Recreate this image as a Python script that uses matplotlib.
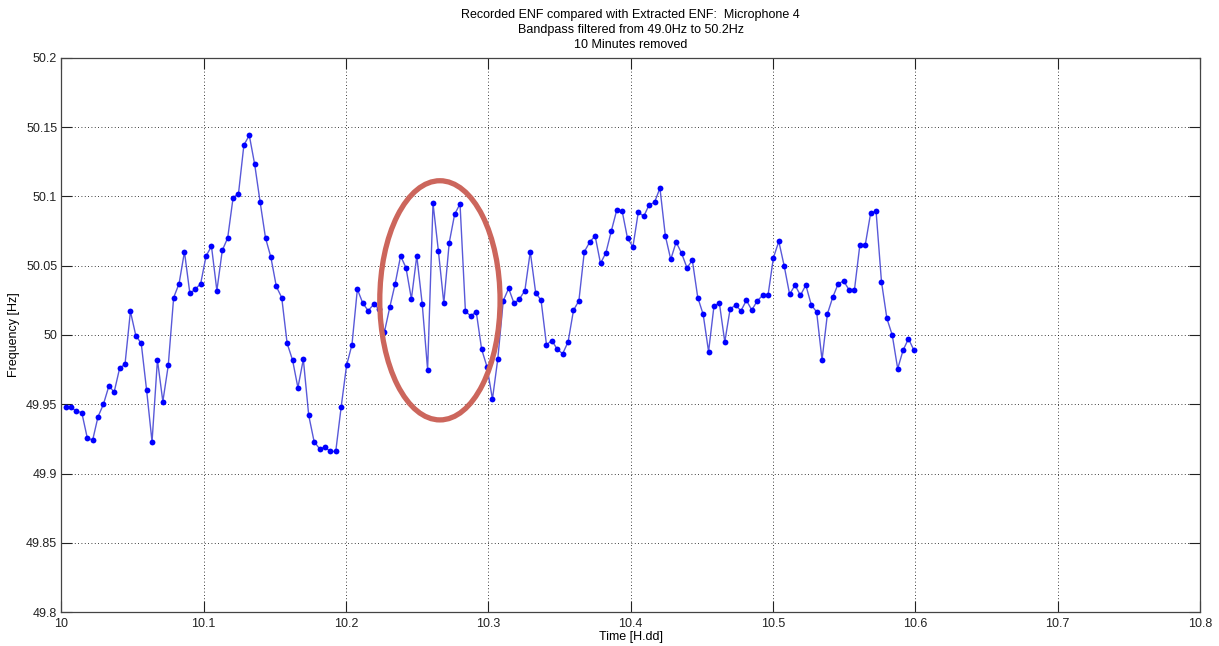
import numpy as np
import matplotlib
matplotlib.use('Agg')
import matplotlib.pyplot as plt
from matplotlib.patches import Ellipse

plt.rcParams['font.family'] = ['Liberation Sans', 'DejaVu Sans']

# extracted ENF, one value per sample (Hz)
freq = [49.948, 49.948, 49.945, 49.944, 49.926, 49.924, 49.941, 49.950, 49.963, 49.959,
        49.976, 49.979, 50.017, 49.9995, 49.994, 49.960, 49.923, 49.982, 49.952, 49.978,
        50.027, 50.037, 50.060, 50.030, 50.033, 50.037, 50.057, 50.064, 50.032, 50.061,
        50.070, 50.099, 50.102, 50.137, 50.144, 50.123, 50.096, 50.070, 50.056, 50.035,
        50.027, 49.994, 49.982, 49.962, 49.9825, 49.942, 49.923, 49.918, 49.919, 49.916,
        49.916, 49.948, 49.978, 49.993, 50.033, 50.023, 50.0175, 50.022, 50.019, 50.002,
        50.020, 50.037, 50.057, 50.0485, 50.026, 50.057, 50.0225, 49.975, 50.095, 50.0605,
        50.023, 50.0665, 50.087, 50.0946, 50.017, 50.0137, 50.0168, 49.9897, 49.977, 49.9537,
        49.983, 50.0247, 50.0336, 50.0228, 50.026, 50.032, 50.060, 50.0305, 50.025, 49.993,
        49.996, 49.9897, 49.9865, 49.995, 50.0178, 50.0247, 50.060, 50.067, 50.0715, 50.0516,
        50.0593, 50.075, 50.090, 50.0895, 50.0697, 50.0636, 50.0888, 50.0855, 50.0939, 50.0956,
        50.106, 50.0715, 50.0545, 50.067, 50.059, 50.0485, 50.0538, 50.027, 50.0149, 49.988,
        50.0209, 50.023, 49.995, 50.019, 50.0214, 50.0175, 50.025, 50.018, 50.0245, 50.0286,
        50.0286, 50.0557, 50.0675, 50.0497, 50.0293, 50.036, 50.0286, 50.036, 50.0218, 50.0166,
        49.982, 50.0153, 50.0274, 50.037, 50.0389, 50.0326, 50.0326, 50.065, 50.065, 50.088,
        50.0893, 50.0384, 50.012, 49.9998, 49.9757, 49.989, 49.9973, 49.989]

t_start = 10.003
t_end = 10.599
time = np.linspace(t_start, t_end, len(freq))

xticks = [10, 10.1, 10.2, 10.3, 10.4, 10.5, 10.6, 10.7, 10.8]
yticks = [49.8, 49.85, 49.9, 49.95, 50, 50.05, 50.1, 50.15, 50.2]
ytick_labels = ['49.8', '49.85', '49.9', '49.95', '50', '50.05', '50.1', '50.15', '50.2']

# suspicious region marked on the chart
mark_center = (10.266, 50.025)
mark_w, mark_h = 0.0845, 0.1725

fig = plt.figure(figsize=(12.19, 6.46), dpi=100)
ax = fig.add_axes([0.0503, 0.0522, 0.9341, 0.8585])

ax.plot(time, freq, '-', color=[0.35, 0.35, 0.85], linewidth=1.0, zorder=3)
ax.plot(time, freq, 'o', color=[0, 0, 1], markersize=4.2, markeredgewidth=0, zorder=4)

ax.add_patch(Ellipse(mark_center, mark_w, mark_h, fill=False,
                     edgecolor=[0.80, 0.40, 0.36], linewidth=3.8, zorder=5))

ax.set_xlim(10, 10.8)
ax.set_ylim(49.8, 50.2)
ax.set_xticks(xticks)
ax.set_xticklabels([str(v) for v in xticks])
ax.set_yticks(yticks)
ax.set_yticklabels(ytick_labels)
ax.grid(True, linestyle=(0, (1, 3)), color='black', linewidth=0.6)
ax.tick_params(direction='in', length=8, width=0.8, top=True, right=True,
               labelsize=9, colors='#222222', pad=2)
ax.tick_params(axis='x', pad=4)
ax.tick_params(axis='y', pad=3)
for s in ax.spines.values():
    s.set_color('#444444')
    s.set_linewidth(0.9)

ax.set_xlabel('Time [H.dd]', fontsize=9, labelpad=1)
ax.set_ylabel('Frequency [Hz]', fontsize=9, labelpad=4)
ax.set_title('Recorded ENF compared with Extracted ENF:  Microphone 4\n'
             'Bandpass filtered from 49.0Hz to 50.2Hz\n10 Minutes removed',
             fontsize=9, linespacing=1.35, pad=7)

fig.savefig('out.png', dpi=100)
